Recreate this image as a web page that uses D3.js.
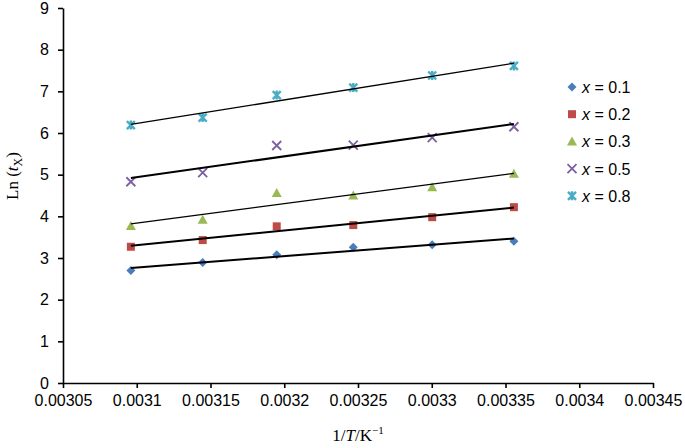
<!DOCTYPE html>
<html>
<head>
<meta charset="utf-8">
<script src="https://cdn.jsdelivr.net/npm/d3@7"></script>
<style>
body { margin: 0; background: #fff; }
.tick text { font-family: "Liberation Sans", Arial, sans-serif; font-size: 16px; fill: #000; }
.axlabel { font-family: "Liberation Serif", "Times New Roman", serif; font-size: 17px; fill: #000; }
.leg { font-family: "Liberation Sans", Arial, sans-serif; font-size: 16px; fill: #000; }
</style>
</head>
<body>
<div id="graphdiv"></div>
<script>
// 1/T values (K^-1) for 323, 318, 313, 308, 303, 298 K
var invT = [0.0030960, 0.0031447, 0.0031949, 0.0032468, 0.0033003, 0.0033557];

var seriesNames = ["x = 0.1", "x = 0.2", "x = 0.3", "x = 0.5", "x = 0.8"];
var fracs = ["0.1", "0.2", "0.3", "0.5", "0.8"];
var lnT01 = [2.70, 2.89, 3.08, 3.26, 3.32, 3.40];
var lnT02 = [3.27, 3.43, 3.76, 3.79, 3.98, 4.22];
var lnT03 = [3.77, 3.92, 4.56, 4.50, 4.70, 5.02];
var lnT05 = [4.83, 5.05, 5.70, 5.71, 5.89, 6.15];
var lnT08 = [6.19, 6.37, 6.91, 7.09, 7.38, 7.61];
var allSeries = [lnT01, lnT02, lnT03, lnT05, lnT08];

var xTicks = [0.00305, 0.0031, 0.00315, 0.0032, 0.00325, 0.0033, 0.00335, 0.0034, 0.00345];
var xTickLabels = ["0.00305", "0.0031", "0.00315", "0.0032", "0.00325", "0.0033", "0.00335", "0.0034", "0.00345"];
var yTicks = [0, 1, 2, 3, 4, 5, 6, 7, 8, 9];

var colors = ["#4a7ebb", "#be4b48", "#98b954", "#7d60a0", "#4bacc6"];
var markers = ["diamond", "square", "triangle", "cross", "star"];
var lineWidths = [2, 2, 1.3, 2, 1.3];

var svg = d3.select("#graphdiv").append("svg").attr("width", 685).attr("height", 448);

var x = d3.scaleLinear().domain([0.00305, 0.00345]).range([63, 653]);
var y = d3.scaleLinear().domain([0, 9]).range([383, 8]);

// axes
var xAxis = d3.axisBottom(x).tickValues(xTicks).tickFormat(function(d, i) { return xTickLabels[i]; }).tickSize(5).tickSizeOuter(0).tickPadding(7);
var gx = svg.append("g").attr("transform", "translate(0,383)").call(xAxis);
var yAxis = d3.axisLeft(y).tickValues(yTicks).tickFormat(d3.format("d")).tickSize(5).tickSizeOuter(0).tickPadding(9);
var gy = svg.append("g").attr("transform", "translate(63,0)").call(yAxis);
svg.selectAll(".domain").attr("stroke", "#000").attr("stroke-width", 1.6);
svg.selectAll(".tick line").attr("stroke", "#000").attr("stroke-width", 1.6);

// axis titles
var xt = svg.append("text").attr("class", "axlabel").attr("x", 358).attr("y", 441).attr("text-anchor", "middle");
xt.append("tspan").text("1/");
xt.append("tspan").attr("font-style", "italic").text("T");
xt.append("tspan").text("/K");
xt.append("tspan").attr("font-size", "11px").attr("dy", -7).text("\u2212");
xt.append("tspan").attr("font-size", "11px").text("1");

var yt = svg.append("text").attr("class", "axlabel").attr("transform", "translate(18,176) rotate(-90)").attr("text-anchor", "middle");
yt.append("tspan").text("Ln (");
yt.append("tspan").attr("font-style", "italic").text("t");
yt.append("tspan").attr("font-size", "12px").attr("dy", 4).text("X");
yt.append("tspan").attr("dy", -4).text(")");

function markerPath(type) {
    if (type == "diamond") return "M0,-4.5 L4.5,0 L0,4.5 L-4.5,0 Z";
    if (type == "square") return "M-4,-4 L4,-4 L4,4 L-4,4 Z";
    if (type == "triangle") return "M0,-5 L5,4 L-5,4 Z";
    if (type == "cross") return "M-4.5,-4.5 L4.5,4.5 M4.5,-4.5 L-4.5,4.5";
    // star: x with a vertical stroke through it
    return "M-4,-4 L4,4 M4,-4 L-4,4 M0,-4.5 L0,4.5";
}

function drawMarker(g, type, color) {
    var p = g.append("path").attr("d", markerPath(type));
    if (type == "cross" || type == "star") {
        p.attr("fill", "none").attr("stroke", color).attr("stroke-width", type == "star" ? 2.4 : 1.8);
    } else {
        p.attr("fill", color);
    }
}

// linear trendlines (least squares)
function fit(xs, ys) {
    var mx = d3.mean(xs), my = d3.mean(ys);
    var sxy = d3.sum(xs, function(d, i) { return (d - mx) * (ys[i] - my); });
    var sxx = d3.sum(xs, function(d) { return (d - mx) * (d - mx); });
    var b = sxy / sxx;
    return { a: my - b * mx, b: b };
}

allSeries.forEach(function(vals, s) {
    var pts = invT.map(function(t, i) { return [t, vals[i]]; });
    pts.forEach(function(p) {
        var g = svg.append("g").attr("transform", "translate(" + x(p[0]) + "," + y(p[1]) + ")");
        drawMarker(g, markers[s], colors[s]);
    });
});

allSeries.forEach(function(vals, s) {
    var f = fit(invT, vals);
    var x0 = d3.min(invT), x1 = d3.max(invT);
    svg.append("line")
        .attr("x1", x(x0)).attr("y1", y(f.a + f.b * x0))
        .attr("x2", x(x1)).attr("y2", y(f.a + f.b * x1))
        .attr("stroke", "#000").attr("stroke-width", lineWidths[s]);
});

// legend
seriesNames.forEach(function(name, s) {
    var ly = 87 + s * 27.2;
    var g = svg.append("g").attr("transform", "translate(572," + ly + ")");
    drawMarker(g, markers[s], colors[s]);
    var t = svg.append("text").attr("class", "leg").attr("x", 582).attr("y", ly + 6);
    t.append("tspan").attr("font-style", "italic").text("x");
    t.append("tspan").text(" = " + fracs[s]);
});
</script>
</body>
</html>
